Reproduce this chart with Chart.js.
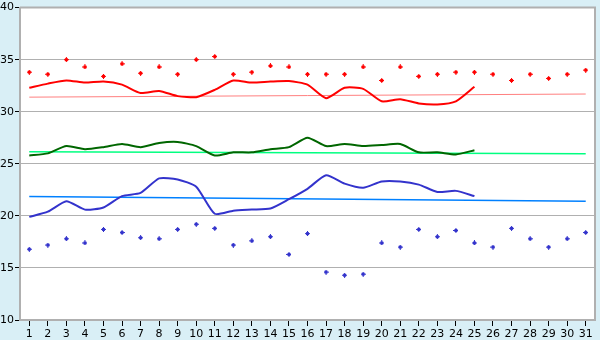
<!DOCTYPE html>
<html>
<head>
<meta charset="utf-8">
<script src="https://cdn.jsdelivr.net/npm/chart.js@4"></script>
<style>
  html, body { margin: 0; padding: 0; background: #d9eff6; }
  #wrap { width: 600px; height: 340px; }
</style>
</head>
<body>
<div id="wrap"><canvas id="chart" width="600" height="340"></canvas></div>
<script>
const days = Array.from({length: 31}, (_, i) => String(i + 1));

// daily maximum / minimum (markers)
const maxValues = [33.8, 33.6, 35.0, 34.3, 33.4, 34.6, 33.7, 34.3, 33.6, 35.0,
  35.3, 33.6, 33.8, 34.4, 34.3, 33.6, 33.6, 33.6, 34.3, 33.0,
  34.3, 33.4, 33.6, 33.8, 33.8, 33.6, 33.0, 33.6, 33.2, 33.6, 34.0];
const minValues = [16.8, 17.2, 17.8, 17.4, 18.7, 18.4, 17.9, 17.8, 18.7, 19.2,
  18.8, 17.2, 17.6, 18.0, 16.3, 18.3, 14.6, 14.3, 14.4, 17.4,
  17.0, 18.7, 18.0, 18.6, 17.4, 17.0, 18.8, 17.8, 17.0, 17.8, 18.4];

// measured lines, days 1-25
const redLine = [32.3, 32.7, 33.0, 32.8, 32.9, 32.6, 31.8, 32.0, 31.5, 31.4,
  32.1, 33.0, 32.8, 32.9, 32.95, 32.6, 31.3, 32.3, 32.2, 31.0,
  31.2, 30.8, 30.7, 31.0, 32.4];
const greenLine = [25.8, 26.0, 26.7, 26.4, 26.6, 26.9, 26.6, 27.0, 27.1, 26.7,
  25.8, 26.1, 26.1, 26.4, 26.6, 27.5, 26.7, 26.9, 26.7, 26.8,
  26.9, 26.1, 26.1, 25.9, 26.3];
const blueLine = [19.9, 20.4, 21.4, 20.6, 20.8, 21.9, 22.2, 23.6, 23.5, 22.8,
  20.2, 20.5, 20.6, 20.7, 21.6, 22.6, 23.9, 23.1, 22.7, 23.3,
  23.3, 23.0, 22.3, 22.4, 21.9];

// trend lines: value at day 1 and day 31
const redTrend = [31.4, 31.7];
const greenTrend = [26.15, 25.97];
const blueTrend = [21.85, 21.4];

const yTicks = [10, 15, 20, 25, 30, 35, 40];

function padTo31(arr) {
  const out = arr.slice();
  while (out.length < 31) out.push(null);
  return out;
}
function trendData(ends) {
  const out = new Array(31).fill(null);
  out[0] = ends[0];
  out[30] = ends[1];
  return out;
}
function marker(color) {
  const c = document.createElement('canvas');
  c.width = 5; c.height = 5;
  const g = c.getContext('2d');
  g.fillStyle = color;
  g.fillRect(2, 0, 1, 5);
  g.fillRect(0, 2, 5, 1);
  g.fillRect(1, 1, 3, 3);
  return c;
}

const gridGray = '#b0b0b0';

const bgPlugin = {
  id: 'bg',
  beforeDraw(chart) {
    const {ctx, chartArea: a} = chart;
    ctx.save();
    ctx.fillStyle = '#d9eff6';
    ctx.fillRect(0, 0, chart.width, chart.height);
    ctx.fillStyle = '#ffffff';
    ctx.fillRect(a.left, a.top, a.right - a.left, a.bottom - a.top);
    ctx.restore();
  },
  afterDatasetsDraw(chart) {
    const {ctx, chartArea: a} = chart;
    ctx.save();
    ctx.strokeStyle = gridGray;
    ctx.lineWidth = 2;
    ctx.beginPath();
    ctx.moveTo(a.left, a.top);
    ctx.lineTo(a.right, a.top);
    ctx.lineTo(a.right, a.bottom);
    ctx.stroke();
    ctx.restore();
  }
};

const ds = [
  {data: maxValues, showLine: false, pointStyle: marker('#ff0000'), pointRadius: 3, order: 0},
  {data: minValues, showLine: false, pointStyle: marker('#3333cc'), pointRadius: 3, order: 0},
  {data: padTo31(redLine), borderColor: '#ff0000', borderWidth: 2, pointRadius: 0, tension: 0.2, order: 1},
  {data: padTo31(greenLine), borderColor: '#006600', borderWidth: 2, pointRadius: 0, tension: 0.2, order: 1},
  {data: padTo31(blueLine), borderColor: '#3333cc', borderWidth: 2, pointRadius: 0, tension: 0.2, order: 1},
  {data: trendData(redTrend), borderColor: '#ff8080', borderWidth: 1, pointRadius: 0, spanGaps: true, order: 2},
  {data: trendData(greenTrend), borderColor: '#00ff80', borderWidth: 1.5, pointRadius: 0, spanGaps: true, order: 2},
  {data: trendData(blueTrend), borderColor: '#0080ff', borderWidth: 1.5, pointRadius: 0, spanGaps: true, order: 2}
];

new Chart(document.getElementById('chart'), {
  type: 'line',
  data: {labels: days, datasets: ds},
  options: {
    responsive: false,
    animation: false,
    events: [],
    layout: {padding: {top: 5, right: 5, left: 0, bottom: 0}},
    plugins: {legend: {display: false}, tooltip: {enabled: false}},
    scales: {
      x: {
        type: 'category',
        offset: true,
        afterFit(scale) { scale.height = 20; },
        grid: {drawOnChartArea: false, offset: false, tickLength: 6, color: '#000000', tickColor: '#000000'},
        border: {color: gridGray, width: 2},
        ticks: {color: '#000', font: {family: 'DejaVu Sans', size: 11}, padding: 2, maxRotation: 0, autoSkip: false}
      },
      y: {
        min: 10,
        max: 40,
        afterFit(scale) { scale.width = 20; },
        afterBuildTicks(scale) { scale.ticks = yTicks.map(v => ({value: v})); },
        grid: {color: gridGray, tickLength: 5, tickColor: '#000000'},
        border: {color: gridGray, width: 2},
        ticks: {color: '#000', font: {family: 'DejaVu Sans', size: 11}, padding: 1}
      }
    }
  },
  plugins: [bgPlugin]
});
</script>
</body>
</html>
